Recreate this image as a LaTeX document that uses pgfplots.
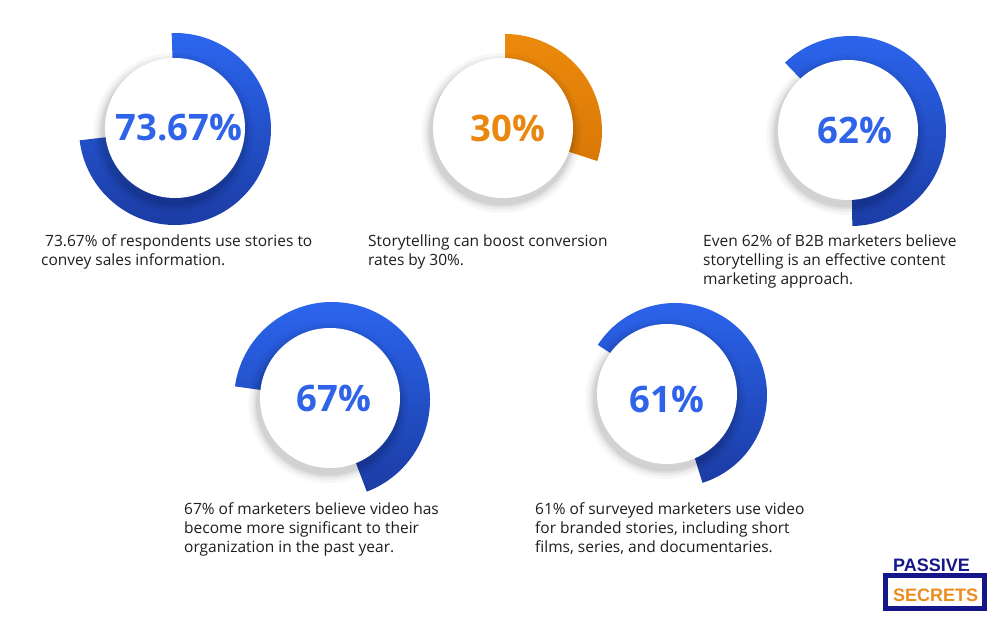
\documentclass[border=0pt]{standalone}
\usepackage{pgfplots}
\pgfplotsset{compat=1.18}
\usepackage{fontspec}
\setmainfont{Open Sans}
\newfontfamily\logofont{Liberation Sans}
\definecolor{bluetop}{HTML}{2C66F0}
\definecolor{bluebot}{HTML}{1B3CA4}
\definecolor{orangetop}{HTML}{EC8A0C}
\definecolor{orangebot}{HTML}{D97806}
\definecolor{numblue}{HTML}{2E63EA}
\definecolor{numorange}{HTML}{E9870E}
\definecolor{bodytext}{HTML}{1E1E1E}
\definecolor{navy}{HTML}{14168A}
\definecolor{logoorange}{HTML}{EB8C1E}
% #1 cx, #2 cy, #3 outer radius, #4 white cx, #5 white cy, #6 start angle, #7 value (%), #8 colour prefix
\newcommand{\donut}[8]{%
  \shade[top color=#8top, bottom color=#8bot] (axis cs:#1,#2) -- ++(#6:#3pt)
     arc[start angle=#6, delta angle=-3.6*#7, radius=#3pt] -- cycle;
  \fill[black, opacity=0.03] (axis cs:#4,#5) ++(-1.5pt,-5pt) circle[radius=80pt];
  \fill[black, opacity=0.04] (axis cs:#4,#5) ++(-1.5pt,-5pt) circle[radius=77pt];
  \fill[black, opacity=0.05] (axis cs:#4,#5) ++(-1.5pt,-5pt) circle[radius=74.5pt];
  \fill[black, opacity=0.06] (axis cs:#4,#5) ++(-1.5pt,-5pt) circle[radius=72.5pt];
  \fill[white] (axis cs:#4,#5) circle[radius=70pt];
}
\begin{document}
\begin{tikzpicture}
\begin{axis}[scale only axis, width=1001pt, height=623pt,
  xmin=0, xmax=1001, ymin=0, ymax=623, y dir=reverse,
  hide axis, clip=false]
\path[fill=white] (axis cs:0,0) rectangle (axis cs:1001,623);
% donuts: values 73.67, 30, 62, 67, 61
\donut{175}{129}{96}{175}{128}{92}{73.67}{blue}
\donut{505}{131}{97}{503}{128}{90}{30}{orange}
\donut{851}{131}{95}{848}{130}{134}{62}{blue}
\donut{332}{400}{98}{330}{398}{172}{67}{blue}
\donut{675}{395}{92}{667}{394}{147}{61}{blue}
% big numbers
\node[anchor=base, font=\bfseries\fontsize{36.5}{40}\selectfont, text=numblue] at (axis cs:179,141) {73.67\%};
\node[anchor=base, font=\bfseries\fontsize{36.5}{40}\selectfont, text=numorange] at (axis cs:508,142) {30\%};
\node[anchor=base, font=\bfseries\fontsize{36.5}{40}\selectfont, text=numblue] at (axis cs:855,143) {62\%};
\node[anchor=base, font=\bfseries\fontsize{36.5}{40}\selectfont, text=numblue] at (axis cs:334,411) {67\%};
\node[anchor=base, font=\bfseries\fontsize{36.5}{40}\selectfont, text=numblue] at (axis cs:667,412) {61\%};
% descriptions (anchored at the baseline of the last line)
\tikzset{desc/.style={anchor=base west, align=left, inner sep=0pt, text=bodytext,
  font=\fontsize{15.5}{19}\selectfont}}
\node[desc] at (axis cs:41,265) {\hspace{4pt}73.67\% of respondents use stories to\\convey sales information.};
\node[desc] at (axis cs:368,265) {Storytelling can boost conversion\\rates by 30\%.};
\node[desc] at (axis cs:703,284) {Even 62\% of B2B marketers believe\\storytelling is an effective content\\marketing approach.};
\node[desc] at (axis cs:184,552) {67\% of marketers believe video has\\become more significant to their\\organization in the past year.};
\node[desc] at (axis cs:535,552) {61\% of surveyed marketers use video\\for branded stories, including short\\films, series, and documentaries.};
% logo
\node[anchor=base west, inner sep=0pt, font=\logofont\bfseries\fontsize{18}{18}\selectfont, text=navy] at (axis cs:893,571) {PASSIVE};
\draw[navy, line width=5pt, fill=white] (axis cs:885.5,575.5) rectangle (axis cs:984.5,608.5);
\node[anchor=base west, inner sep=0pt, font=\logofont\bfseries\fontsize{18}{18}\selectfont, text=logoorange] at (axis cs:893,601) {SECRETS};
\end{axis}
\end{tikzpicture}
\end{document}
